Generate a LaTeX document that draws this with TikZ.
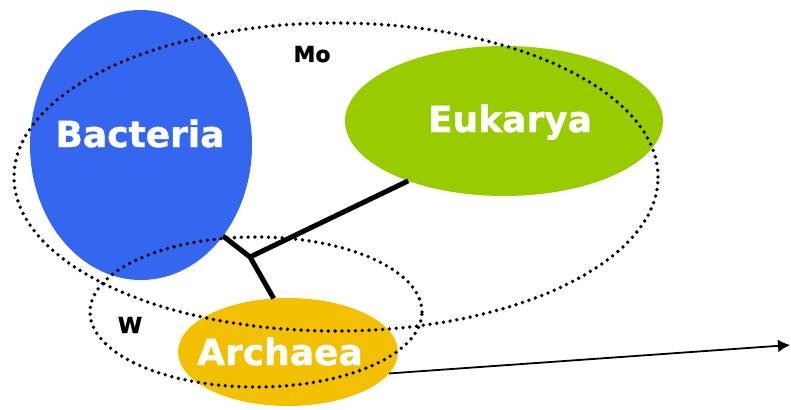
\documentclass[tikz,border=0pt]{standalone}
\usepackage{fontspec}
\setmainfont{DejaVu Sans}
\newfontfamily\heavyfont{DejaVu Sans Bold}[FakeBold=1.2]
\usetikzlibrary{shapes.geometric,arrows.meta}

\definecolor{bacblue}{RGB}{52,102,240}
\definecolor{eukgreen}{RGB}{153,204,0}
\definecolor{arcyellow}{RGB}{242,192,0}

\begin{document}
\begin{tikzpicture}[x=1pt,y=-1pt,
	domain/.style={ellipse, fill=#1, inner sep=0pt, outer sep=0pt},
	dname/.style={anchor=base, text=white, font=\fontsize{36}{40}\selectfont\heavyfont},
	gname/.style={anchor=base, font=\fontsize{22}{26}\selectfont\heavyfont},
	group/.style={ellipse, draw, line width=3.8pt, dash pattern=on 0pt off 6.8pt,
		line cap=round, inner sep=0pt},
	branch/.style={line width=5pt}]
\useasboundingbox (0,0) rectangle (791,409);
%Domaenen
\node [domain=bacblue, minimum width=222pt, minimum height=270pt] (bac) at (141,145) {};
\node [domain=eukgreen, minimum width=318pt, minimum height=150pt] (euk) at (504,121) {};
\node [domain=arcyellow, minimum width=220pt, minimum height=108pt] (arc) at (288,352) {};
\node [dname] (bactxt) at (140,147) {Bacteria};
\node [dname] (euktxt) at (510,132) {Eukarya};
\node [dname] (arctxt) at (280,365) {Archaea};
%Gruppen
\node [group, minimum width=644pt, minimum height=308pt] (mo) at (336,177) {};
\node [group, minimum width=332pt, minimum height=150pt] (w) at (256,312) {};
\node [gname] (motxt) at (312,62) {Mo};
\node [gname] (wtxt) at (130,333) {W};
%Baum
\coordinate (j) at (250,257);
\draw [branch] (j) -- (bac.-48);
\draw [branch] (j) -- (euk.212);
\draw [branch] (j) -- (arc.105);
%Pfeil
\coordinate (tip) at (790,345);
\draw [line width=1.8pt, -{Latex[length=12pt,width=13pt]}] (arc.-12) -- (tip);
\end{tikzpicture}
\end{document}
